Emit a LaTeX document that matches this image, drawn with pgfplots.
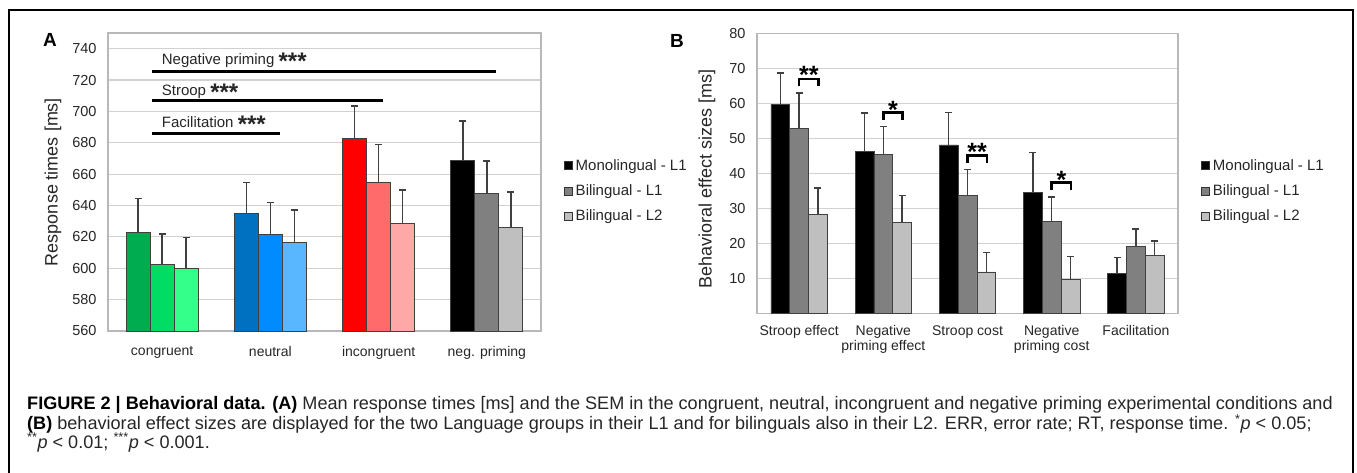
\documentclass[border=0pt]{standalone}
\usepackage{fontspec}
\setmainfont{Liberation Sans}
\usepackage{pgfplots}
\pgfplotsset{compat=1.18}
\usepackage{pgfplotstable}

% bar colours, panel A
\definecolor{grA}{HTML}{00AC50}
\definecolor{grB}{HTML}{00DC64}
\definecolor{grC}{HTML}{33FF8A}
\definecolor{blA}{HTML}{0070C0}
\definecolor{blB}{HTML}{008CFF}
\definecolor{blC}{HTML}{58B7FF}
\definecolor{rdA}{HTML}{FF0000}
\definecolor{rdB}{HTML}{FF6B6B}
\definecolor{rdC}{HTML}{FFA8A8}
\definecolor{gyA}{HTML}{000000}
\definecolor{gyB}{HTML}{808080}
\definecolor{gyC}{HTML}{BFBFBF}

% effect sizes, panel B (value, error)
\pgfplotstableread{
x  m    me   b1   b1e  b2   b2e
0  59.7 9.0  52.7 10.2 28.3 7.5
1  46.2 11.0 45.3 8.1  26.0 7.6
2  48.1 9.2  33.6 7.4  11.8 5.6
3  34.5 11.4 26.2 7.0  9.6  6.6
4  11.5 4.4  19.1 5.0  16.5 4.2
}\effects

\newcommand{\stars}[1]{\smash{\raisebox{-5pt}{\fontsize{24}{24}\selectfont\bfseries #1}}}

\pgfplotsset{
  panel/.style={
    scale only axis, anchor=north west,
    axis line style={black!28, line width=1.2pt},
    ymajorgrids, grid style={black!18, line width=1.2pt},
    major tick length=0pt,
    tick label style={font=\fontsize{14.5}{16}\selectfont, text=black!85},
    yticklabel style={xshift=-8pt},
    /pgf/number format/assume math mode=true,
    error bars/y dir=plus, error bars/y explicit,
    error bars/error bar style={black!75, line width=1.4pt},
    error bars/error mark options={rotate=90, black!75, line width=1.4pt, mark size=3.5pt},
    every axis plot/.append style={draw=black!75, line width=0.8pt},
  },
  sqlegend/.style={
    legend image code/.code={\draw[##1, line width=0.6pt, draw=black!80] (0pt,-4pt) rectangle (8pt,4pt);},
    legend cell align=left,
    legend style={draw=none, fill=none, font=\fontsize{15}{17}\selectfont, text=black!85,
      row sep=9pt, inner sep=0pt,
      /tikz/every odd column/.append style={column sep=1pt}},
  },
}

\begin{document}
\begin{tikzpicture}
\useasboundingbox (0,0) rectangle (1357pt,-473pt);
% figure frame
\draw[line width=2.6pt] (9pt,-475pt) -- (9pt,-10pt) -- (1353pt,-10pt) -- (1353pt,-475pt);

\node[font=\fontsize{19}{20}\selectfont\bfseries] at (50pt,-40pt) {A};
\node[font=\fontsize{19}{20}\selectfont\bfseries] at (677pt,-41pt) {B};

% panel A
\begin{axis}[panel, ybar=0pt, bar width=24pt, sqlegend,
  at={(108pt,-33pt)}, width=433pt, height=298pt,
  xmin=-0.5, xmax=3.5, ymin=560, ymax=750,
  ytick={560,580,...,740},
  xtick={0,1,2,3}, xticklabels={congruent,neutral,incongruent,neg. priming},
  xticklabel style={font=\fontsize{14}{15}\selectfont, yshift=-12pt},
  ylabel={Response times [ms]},
  every axis y label/.style={at={(axis description cs:-0.127,0.5)}, rotate=90, anchor=center,
    font=\fontsize{18}{20}\selectfont, text=black!85},
  legend style={at={(axis description cs:1.053,0.47)}, anchor=west},
]
\addplot[fill=grA, bar shift=-24pt, forget plot] coordinates {(0,623.0) +- (0,21.3)};
\addplot[fill=grB, bar shift=0pt, forget plot] coordinates {(0,602.5) +- (0,19.4)};
\addplot[fill=grC, bar shift=24pt, forget plot] coordinates {(0,600.0) +- (0,19.5)};
\addplot[fill=blA, bar shift=-24pt, forget plot] coordinates {(1,634.7) +- (0,19.8)};
\addplot[fill=blB, bar shift=0pt, forget plot] coordinates {(1,621.7) +- (0,20.3)};
\addplot[fill=blC, bar shift=24pt, forget plot] coordinates {(1,616.5) +- (0,20.7)};
\addplot[fill=rdA, bar shift=-24pt, forget plot] coordinates {(2,682.8) +- (0,20.6)};
\addplot[fill=rdB, bar shift=0pt, forget plot] coordinates {(2,654.6) +- (0,24.3)};
\addplot[fill=rdC, bar shift=24pt, forget plot] coordinates {(2,628.5) +- (0,21.3)};
\addplot[fill=gyA, bar shift=-24pt] coordinates {(3,668.8) +- (0,25.2)};
\addplot[fill=gyB, bar shift=0pt] coordinates {(3,647.7) +- (0,20.6)};
\addplot[fill=gyC, bar shift=24pt] coordinates {(3,626.2) +- (0,22.3)};
\legend{Monolingual - L1, Bilingual - L1, Bilingual - L2}
% significance lines
\draw[line width=2.7pt] (axis cs:-0.096,725.5) -- (axis cs:3.084,725.5);
\draw[line width=2.7pt] (axis cs:-0.096,706.8) -- (axis cs:2.038,706.8);
\draw[line width=2.7pt] (axis cs:-0.096,686.1) -- (axis cs:1.089,686.1);
\begin{scope}[every node/.style={anchor=base west, inner sep=0pt, font=\fontsize{15}{17}\selectfont, text=black!85}]
\node at (axis cs:-0.004,729.8) {Negative priming \stars{***}};
\node at (axis cs:-0.004,710.0) {Stroop \stars{***}};
\node at (axis cs:-0.004,690.0) {Facilitation \stars{***}};
\end{scope}
\end{axis}

% panel B
\begin{axis}[panel, ybar=0pt, bar width=18.8pt, sqlegend,
  at={(757pt,-33.3pt)}, width=421pt, height=280pt,
  xmin=-0.5, xmax=4.5, ymin=0, ymax=80,
  ytick={10,20,...,80},
  xtick={0,1,2,3,4},
  xticklabels={Stroop effect, Negative\\priming effect, Stroop cost, Negative\\priming cost, Facilitation},
  xticklabel style={font=\fontsize{14}{15}\selectfont, align=center, yshift=-9pt},
  ylabel={Behavioral effect sizes [ms]},
  every axis y label/.style={at={(axis description cs:-0.119,0.48)}, rotate=90, anchor=center,
    font=\fontsize{18}{20}\selectfont, text=black!85},
  legend style={at={(axis description cs:1.055,0.437)}, anchor=west},
]
\addplot[fill=gyA] table[x=x, y=m, y error=me] {\effects};
\addplot[fill=gyB] table[x=x, y=b1, y error=b1e] {\effects};
\addplot[fill=gyC] table[x=x, y=b2, y error=b2e] {\effects};
\legend{Monolingual - L1, Bilingual - L1, Bilingual - L2}
% brackets between bilingual L1 and L2
\begin{scope}[line width=2.7pt]
\draw (axis cs:0,64.8) -- (axis cs:0,66.9) -- (axis cs:0.23,66.9) -- (axis cs:0.23,64.8);
\draw (axis cs:1,55.3) -- (axis cs:1,57.4) -- (axis cs:1.23,57.4) -- (axis cs:1.23,55.3);
\draw (axis cs:2,43.0) -- (axis cs:2,45.1) -- (axis cs:2.23,45.1) -- (axis cs:2.23,43.0);
\draw (axis cs:3,35.1) -- (axis cs:3,37.3) -- (axis cs:3.23,37.3) -- (axis cs:3.23,35.1);
\end{scope}
\begin{scope}[every node/.style={anchor=base, inner sep=0pt, font=\fontsize{25}{25}\selectfont\bfseries}]
\node at (axis cs:0.115,65.6) {**};
\node at (axis cs:1.115,55.6) {*};
\node at (axis cs:2.115,43.6) {**};
\node at (axis cs:3.115,35.7) {*};
\end{scope}
\end{axis}

% caption
\begin{scope}[every node/.style={anchor=west, inner sep=0pt, font=\fontsize{18.1}{18.5}\selectfont, text=black!85}]
\node at (27pt,-405pt) {\textbf{\color{black}FIGURE 2 | Behavioral data. (A)} Mean response times [ms] and the SEM in the congruent, neutral, incongruent and negative priming experimental conditions and};
\node at (27pt,-424pt) {\textbf{\color{black}(B)} behavioral effect sizes are displayed for the two Language groups in their L1 and for bilinguals also in their L2. ERR, error rate; RT, response time. \textsuperscript{*}\textit{p} < 0.05;};
\node at (27pt,-442.5pt) {\textsuperscript{**}\textit{p} < 0.01; \textsuperscript{***}\textit{p} < 0.001.};
\end{scope}
\end{tikzpicture}
\end{document}
